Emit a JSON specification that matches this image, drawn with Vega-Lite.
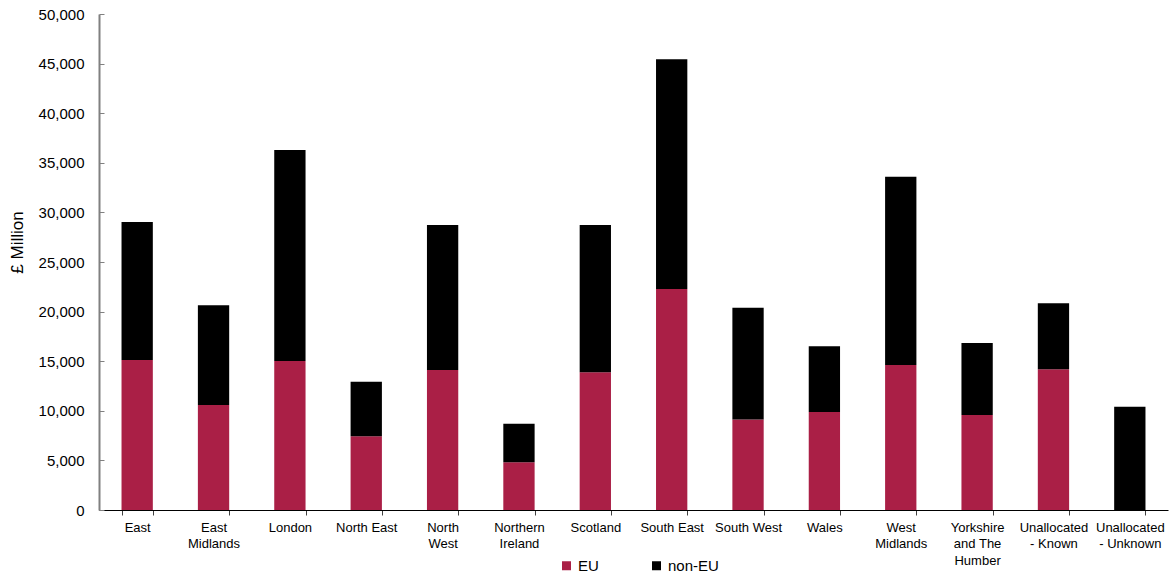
{
  "$schema": "https://vega.github.io/schema/vega-lite/v6.json",
  "width": 1069,
  "height": 496,
  "autosize": {"type": "none"},
  "padding": {"left": 99, "top": 14, "right": 1, "bottom": 66},
  "background": "white",
  "config": {"view": {"stroke": null}, "font": "Liberation Sans"},
  "data": {
    "values": [
      {"region": "East", "group": "EU", "value": 15120},
      {"region": "East", "group": "non-EU", "value": 13910},
      {"region": "East Midlands", "group": "EU", "value": 10580},
      {"region": "East Midlands", "group": "non-EU", "value": 10070},
      {"region": "London", "group": "EU", "value": 15020},
      {"region": "London", "group": "non-EU", "value": 21280},
      {"region": "North East", "group": "EU", "value": 7440},
      {"region": "North East", "group": "non-EU", "value": 5490},
      {"region": "North West", "group": "EU", "value": 14110},
      {"region": "North West", "group": "non-EU", "value": 14620},
      {"region": "Northern Ireland", "group": "EU", "value": 4820},
      {"region": "Northern Ireland", "group": "non-EU", "value": 3870},
      {"region": "Scotland", "group": "EU", "value": 13880},
      {"region": "Scotland", "group": "non-EU", "value": 14850},
      {"region": "South East", "group": "EU", "value": 22290},
      {"region": "South East", "group": "non-EU", "value": 23160},
      {"region": "South West", "group": "EU", "value": 9130},
      {"region": "South West", "group": "non-EU", "value": 11270},
      {"region": "Wales", "group": "EU", "value": 9870},
      {"region": "Wales", "group": "non-EU", "value": 6630},
      {"region": "West Midlands", "group": "EU", "value": 14620},
      {"region": "West Midlands", "group": "non-EU", "value": 18980},
      {"region": "Yorkshire and The Humber", "group": "EU", "value": 9570},
      {"region": "Yorkshire and The Humber", "group": "non-EU", "value": 7270},
      {"region": "Unallocated - Known", "group": "EU", "value": 14180},
      {"region": "Unallocated - Known", "group": "non-EU", "value": 6670},
      {"region": "Unallocated - Unknown", "group": "EU", "value": 0},
      {"region": "Unallocated - Unknown", "group": "non-EU", "value": 10400}
    ]
  },
  "mark": {"type": "bar"},
  "encoding": {
    "x": {
      "field": "region",
      "type": "nominal",
      "sort": null,
      "scale": {"paddingInner": 0.59, "paddingOuter": 0.295},
      "axis": {
        "title": null,
        "labelAngle": 0,
        "labelFontSize": 13,
        "labelColor": "#000000",
        "labelLineHeight": 16.5,
        "labelPadding": 6,
        "labelExpr": "({'East Midlands': ['East', 'Midlands'], 'North West': ['North', 'West'], 'Northern Ireland': ['Northern', 'Ireland'], 'West Midlands': ['West', 'Midlands'], 'Yorkshire and The Humber': ['Yorkshire', 'and The', 'Humber'], 'Unallocated - Known': ['Unallocated', '- Known'], 'Unallocated - Unknown': ['Unallocated', '- Unknown']})[datum.value] || datum.value",
        "tickBand": "extent",
        "tickSize": 5,
        "tickColor": "#404040",
        "domainColor": "#000000",
        "domainWidth": 1
      }
    },
    "y": {
      "field": "value",
      "type": "quantitative",
      "stack": "zero",
      "scale": {"domain": [0, 50000], "nice": false},
      "axis": {
        "title": "£ Million",
        "titleFontSize": 17,
        "titleFontWeight": "normal",
        "titleColor": "#000000",
        "titleX": -82,
        "titleY": 228,
        "titleBaseline": "middle",
        "values": [0, 5000, 10000, 15000, 20000, 25000, 30000, 35000, 40000, 45000, 50000],
        "format": ",d",
        "labelFontSize": 15,
        "labelColor": "#000000",
        "labelPadding": 20,
        "tickSize": -5,
        "tickColor": "#808080",
        "domainColor": "#808080",
        "domainWidth": 2,
        "grid": false
      }
    },
    "order": {"field": "group", "sort": "ascending"},
    "color": {
      "field": "group",
      "type": "nominal",
      "scale": {"domain": ["EU", "non-EU"], "range": ["#AA1F46", "#000000"]},
      "legend": {
        "title": null,
        "orient": "none",
        "legendX": 460,
        "legendY": 544,
        "direction": "horizontal",
        "symbolType": "square",
        "symbolSize": 81,
        "symbolStrokeWidth": 0,
        "labelFontSize": 15,
        "labelColor": "#000000",
        "labelOffset": 4,
        "columnPadding": 50
      }
    }
  }
}
